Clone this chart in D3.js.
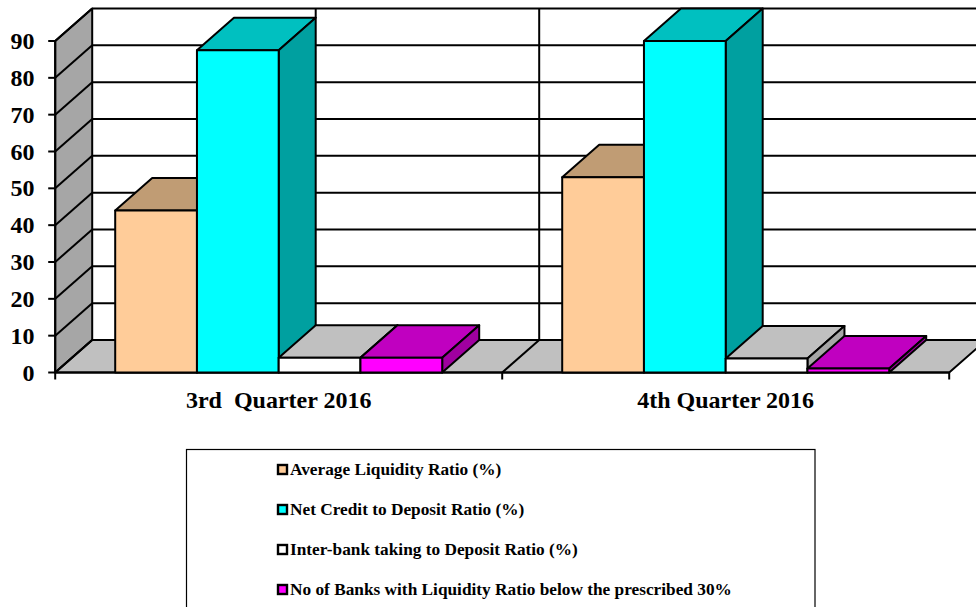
<!DOCTYPE html>
<html><head><meta charset="utf-8">
<script src="https://cdn.jsdelivr.net/npm/d3@7"></script>
<style>html,body{margin:0;padding:0;background:#fff;overflow:hidden}svg{display:block}
text{font-family:"Liberation Serif",serif;font-weight:bold;fill:#000;white-space:pre}</style></head>
<body><svg id="c" width="976" height="607"></svg>
<script>
const quarters = ["3rd  Quarter 2016", "4th Quarter 2016"];
const seriesNames = ["Average Liquidity Ratio (%)", "Net Credit to Deposit Ratio (%)", "Inter-bank taking to Deposit Ratio (%)", "No of Banks with Liquidity Ratio below the prescribed 30%"];
const avgLiquidity = [44, 53];
const netCredit = [87.5, 90];
const interbank = [4, 3.8];
const banksBelow = [4, 1.1];
const yTicks = [0, 10, 20, 30, 40, 50, 60, 70, 80, 90];
const frontColors = ["#ffcc99", "#00ffff", "#ffffff", "#ff00ff"];
const topColors = ["#c09c74", "#00c0c0", "#c0c0c0", "#c000c0"];
const sideColors = ["#a08060", "#00a0a0", "#a6a6a6", "#a000a0"];

const values = [avgLiquidity, netCredit, interbank, banksBelow];
const svg = d3.select("#c");
const dx = 37, dy = -32.5;
const y = d3.scaleLinear().domain([0, 90]).range([372.5, 41]);
const x0 = d3.scaleBand().domain(quarters).range([55.2, 949.2]);
const x1 = d3.scaleBand().domain(seriesNames).range([60, 387]);
const plotTop = y(90) + dy, floorY = y(0);
const line = (g, a, b, c, d, w = 2) => g.append("line").attr("x1", a).attr("y1", b).attr("x2", c).attr("y2", d).attr("stroke", "#000").attr("stroke-width", w);
const poly = (g, pts, fill) => g.append("polygon").attr("points", pts.map(p => p.join(",")).join(" ")).attr("fill", fill).attr("stroke", "#000").attr("stroke-width", 2).attr("stroke-linejoin", "round");

const wall = svg.append("g");
const xStart = x0.range()[0], xEnd = x0.range()[1];
poly(wall, [[xStart, y(90)], [xStart + dx, y(90) + dy], [xStart + dx, floorY + dy], [xStart, floorY]], "#a6a6a6");
poly(wall, [[xStart, floorY], [xStart + dx, floorY + dy], [xEnd + dx, floorY + dy], [xEnd, floorY]], "#c0c0c0");
yTicks.forEach(t => {
  line(wall, xStart - 7, y(t), xStart, y(t));
  line(wall, xStart, y(t), xStart + dx, y(t) + dy);
  if (t > 0) line(wall, xStart + dx, y(t) + dy, 990, y(t) + dy);
});
quarters.forEach((q, i) => {
  if (i > 0) {
    const b = x0(q);
    line(wall, b + dx, plotTop, b + dx, floorY + dy);
    line(wall, b + dx, floorY + dy, b, floorY);
  }
});
[xStart, x0(quarters[1]), xEnd].forEach(b => line(wall, b, floorY, b, floorY + 7));
line(wall, xStart, floorY, xEnd, floorY);
line(wall, xStart, y(90), xStart, floorY);

quarters.forEach((q, qi) => {
  const g = svg.append("g");
  seriesNames.forEach((s, si) => {
    const v = values[si][qi];
    const l = x0(q) + x1(s), r = l + x1.bandwidth(), t = y(v);
    poly(g, [[l, t], [l + dx, t + dy], [r + dx, t + dy], [r, t]], topColors[si]);
    poly(g, [[r, t], [r + dx, t + dy], [r + dx, floorY + dy], [r, floorY]], sideColors[si]);
    poly(g, [[l, t], [r, t], [r, floorY], [l, floorY]], frontColors[si]);
    if (si === 1) line(g, r + dx, plotTop, r + dx, t + dy);
  });
  svg.append("text").attr("x", x0(q) + 223.5).attr("y", 408).attr("text-anchor", "middle")
    .attr("font-size", 24).text(q);
});

svg.append("g").selectAll("text").data(yTicks).join("text")
  .attr("x", 34.5).attr("y", d => y(d) + 8).attr("text-anchor", "end").attr("font-size", 24).text(d => d);

const lg = svg.append("g");
lg.append("rect").attr("x", 186.5).attr("y", 449.5).attr("width", 628.5).attr("height", 170).attr("fill", "#fff").attr("stroke", "#000").attr("stroke-width", 1.2);
const rowY = d3.scalePoint().domain(seriesNames).range([470, 590]);
seriesNames.forEach((s, i) => {
  lg.append("rect").attr("x", 278).attr("y", rowY(s) - 5).attr("width", 9).attr("height", 9).attr("fill", frontColors[i]).attr("stroke", "#000").attr("stroke-width", 2.4);
  lg.append("text").attr("x", 290).attr("y", rowY(s) + 5).attr("font-size", 17.3).text(s);
});
</script></body></html>
